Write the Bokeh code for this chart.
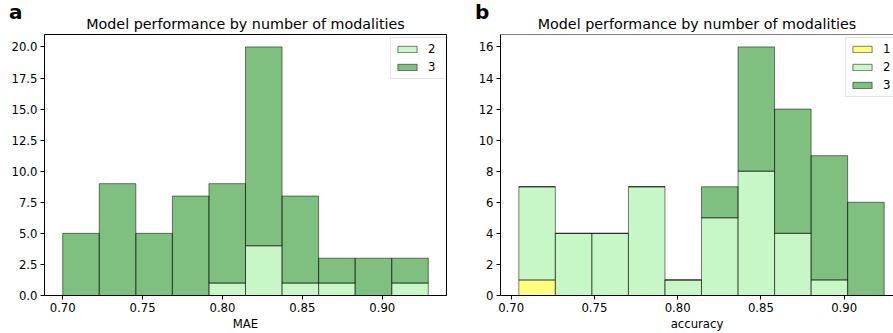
import numpy as np
from bokeh.plotting import figure
from bokeh.layouts import row, column
from bokeh.models import (Range1d, FixedTicker, NumeralTickFormatter, Div,
                          Legend, LegendItem, Span)
from bokeh.embed import file_html
from bokeh.resources import INLINE

# ---------------- data ----------------
title_text = "Model performance by number of modalities"
panel_letters = ["a", "b"]

# panel a: MAE histogram, 10 bins between these limits
mae_lo, mae_hi = 0.700, 0.9288
mae_counts_2 = [0, 0, 0, 0, 1, 4, 1, 1, 0, 1]
mae_counts_3 = [5, 9, 5, 8, 8, 16, 7, 2, 3, 2]

# panel b: accuracy histogram, 10 bins between these limits
acc_lo, acc_hi = 0.7046, 0.9240
acc_counts_1 = [1, 0, 0, 0, 0, 0, 0, 0, 0, 0]
acc_counts_2 = [6, 4, 4, 7, 1, 5, 8, 4, 1, 0]
acc_counts_3 = [0, 0, 0, 0, 0, 2, 8, 8, 8, 6]

x_ticks = [0.70, 0.75, 0.80, 0.85, 0.90]
y_ticks_a = [0, 2.5, 5, 7.5, 10, 12.5, 15, 17.5, 20]
y_ticks_b = [0, 2, 4, 6, 8, 10, 12, 14, 16]

colors = {"1": "yellow", "2": "lightgreen", "3": "green"}
FONT = "DejaVu Sans"


def style(p, yticks, yfmt):
    p.title.text_font = FONT
    p.title.text_font_size = "14.3px"
    p.title.text_font_style = "normal"
    p.title.text_color = "black"
    p.title.align = "center"
    p.title.standoff = 5
    p.xgrid.visible = False
    p.ygrid.visible = False
    p.xaxis.ticker = FixedTicker(ticks=x_ticks)
    p.yaxis.ticker = FixedTicker(ticks=yticks)
    p.xaxis.formatter = NumeralTickFormatter(format="0.00")
    p.yaxis.formatter = NumeralTickFormatter(format=yfmt)
    for ax in (p.xaxis, p.yaxis):
        ax.major_label_text_font = FONT
        ax.major_label_text_font_size = "11.7px"
        ax.major_label_text_color = "black"
        ax.axis_label_text_font = FONT
        ax.axis_label_text_font_size = "11.7px"
        ax.axis_label_text_font_style = "normal"
        ax.axis_label_text_color = "black"
        ax.axis_line_color = "black"
        ax.major_tick_line_color = "black"
        ax.major_tick_out = 4
        ax.major_tick_in = 0
        ax.minor_tick_line_color = None
        ax.major_label_standoff = 3
        ax.axis_label_standoff = 2


def stacked(p, lo, hi, layers):
    edges = np.linspace(lo, hi, len(layers[0][1]) + 1)
    bottom = np.zeros(len(layers[0][1]))
    items = []
    for name, counts in layers:
        c = np.array(counts, dtype=float)
        r = p.quad(left=edges[:-1], right=edges[1:], bottom=bottom, top=bottom + c,
                   fill_color=colors[name], fill_alpha=0.5,
                   line_color="black", line_alpha=0.5, line_width=1)
        items.append(LegendItem(label=name, renderers=[r]))
        bottom = bottom + c
    return items


def make_legend(items, loc):
    lg = Legend(items=items, location=loc)
    lg.label_text_font = FONT
    lg.label_text_font_size = "11.7px"
    lg.label_text_color = "black"
    lg.glyph_width = 24
    lg.glyph_height = 8
    lg.label_height = 14
    lg.spacing = 4
    lg.padding = 4
    lg.label_standoff = 9
    lg.border_line_color = "#cccccc"
    lg.border_line_width = 1
    lg.background_fill_alpha = 0.8
    return lg


# ---------------- panel a ----------------
pa = figure(width=473, height=333, output_backend="svg", toolbar_location=None,
            x_range=Range1d(0.6886, 0.9402), y_range=Range1d(0, 21),
            title=title_text, x_axis_label="MAE",
            min_border_left=44, min_border_right=27,
            min_border_top=34, min_border_bottom=38)
style(pa, y_ticks_a, "0.0")
pa.outline_line_color = "black"
pa.outline_line_alpha = 1
items_a = stacked(pa, mae_lo, mae_hi, [("2", mae_counts_2), ("3", mae_counts_3)])
pa.add_layout(make_legend(items_a, (346, 216)))

# ---------------- panel b ----------------
pb = figure(width=420, height=333, output_backend="svg", toolbar_location=None,
            x_range=Range1d(0.6936, 0.9296), y_range=Range1d(0, 16.8),
            title=title_text, x_axis_label="accuracy",
            min_border_left=27, min_border_right=0,
            min_border_top=34, min_border_bottom=38)
style(pb, y_ticks_b, "0")
pb.outline_line_color = None
pb.add_layout(Span(location=16.8, dimension="width", line_color="black", line_width=1))
items_b = stacked(pb, acc_lo, acc_hi,
                  [("1", acc_counts_1), ("2", acc_counts_2), ("3", acc_counts_3)])
pb.add_layout(make_legend(items_b, (345, 198)))

# ---------------- panel letters (overlaid on the figures) ----------------
letters_html = (
    '<div style="position:relative;z-index:10;width:893px;height:24px;'
    'font-family:\'DejaVu Sans\';font-weight:bold;font-size:20px;line-height:20px;color:black">'
    '<span style="position:absolute;left:9px;top:2px">%s</span>'
    '<span style="position:absolute;left:475px;top:2px">%s</span>'
    '</div>' % (panel_letters[0], panel_letters[1])
)
letters = Div(text=letters_html, width=893, height=24, margin=(0, 0, -24, 0),
              styles={"position": "relative", "z-index": "10"})

layout = column(letters, row(pa, pb))
open("out.html", "w").write(file_html(layout, INLINE))
